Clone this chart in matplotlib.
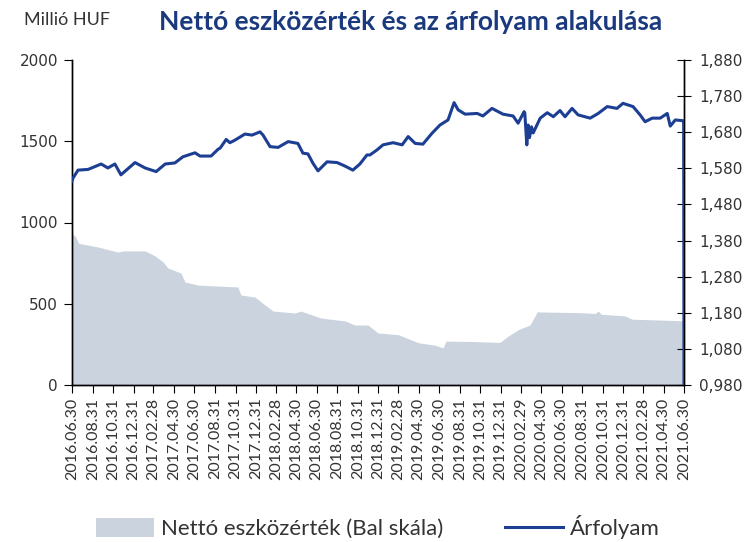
import matplotlib
matplotlib.use("Agg")
import matplotlib.pyplot as plt
import pandas as pd
from matplotlib.ticker import FuncFormatter, MultipleLocator
from matplotlib.patches import Patch
from matplotlib.lines import Line2D

# ---- data ----
nav_dates = ["2016-06-30", "2016-07-10", "2016-07-20", "2016-09-16", "2016-11-14", "2016-11-29",
             "2017-02-03", "2017-03-05", "2017-03-29", "2017-04-12", "2017-05-21", "2017-06-02",
             "2017-07-11", "2017-11-07", "2017-11-16", "2017-12-28", "2018-01-27", "2018-02-20",
             "2018-04-26", "2018-05-14", "2018-07-13", "2018-09-23", "2018-10-22", "2018-11-30",
             "2018-12-30", "2019-02-28", "2019-04-05", "2019-04-30", "2019-06-18", "2019-07-12",
             "2019-07-21", "2019-10-01", "2019-12-29", "2020-01-22", "2020-02-21", "2020-03-28",
             "2020-04-18", "2020-08-24", "2020-10-08", "2020-10-17", "2020-10-26", "2021-01-05",
             "2021-01-26", "2021-06-30"]
nav_values = [930, 915, 872, 849, 818, 825,
              825, 794, 757, 720, 689, 634,
              615, 603, 554, 541, 492, 455,
              443, 455, 412, 394, 369, 369,
              320, 310, 280, 260, 245, 228,
              270, 268, 262, 300, 340, 370,
              450, 445, 440, 455, 435, 425,
              405, 395]

rate_dates = ["2016-06-30", "2016-07-03", "2016-07-18", "2016-08-17", "2016-09-25", "2016-10-15",
              "2016-11-05", "2016-11-23", "2017-01-04", "2017-02-03", "2017-03-08", "2017-04-04",
              "2017-05-03", "2017-05-27", "2017-07-02", "2017-07-17", "2017-08-19", "2017-09-09",
              "2017-09-15", "2017-10-03", "2017-10-14", "2017-10-29", "2017-11-28", "2017-12-19",
              "2018-01-12", "2018-01-21", "2018-02-11", "2018-03-07", "2018-04-06", "2018-05-05",
              "2018-05-20", "2018-06-04", "2018-06-19", "2018-07-04", "2018-07-31", "2018-08-30",
              "2018-09-23", "2018-10-16", "2018-11-06", "2018-11-27", "2018-12-06", "2018-12-27",
              "2019-01-14", "2019-02-13", "2019-03-12", "2019-03-30", "2019-04-20", "2019-05-13",
              "2019-06-09", "2019-07-03", "2019-07-27", "2019-08-14", "2019-08-26", "2019-09-16",
              "2019-10-22", "2019-11-08", "2019-12-05", "2020-01-07", "2020-02-06", "2020-02-21",
              "2020-03-10", "2020-03-12", "2020-03-18", "2020-03-22", "2020-03-26", "2020-04-01",
              "2020-04-06", "2020-04-27", "2020-05-18", "2020-06-05", "2020-06-25", "2020-07-10",
              "2020-07-31", "2020-08-18", "2020-09-23", "2020-10-17", "2020-11-13", "2020-12-12",
              "2020-12-30", "2021-01-29", "2021-02-19", "2021-03-06", "2021-03-27", "2021-04-20",
              "2021-05-11", "2021-05-20", "2021-06-04", "2021-06-25", "2021-06-29", "2021-06-30"]
rate_values = [1.545, 1.553, 1.575, 1.577, 1.592, 1.581,
               1.592, 1.562, 1.596, 1.581, 1.571, 1.592,
               1.595, 1.612, 1.623, 1.614, 1.614, 1.633,
               1.636, 1.660, 1.651, 1.658, 1.675, 1.672,
               1.681, 1.672, 1.640, 1.638, 1.654, 1.649,
               1.622, 1.620, 1.594, 1.573, 1.598, 1.596,
               1.586, 1.575, 1.592, 1.617, 1.617, 1.631,
               1.645, 1.651, 1.645, 1.668, 1.649, 1.647,
               1.677, 1.700, 1.714, 1.762, 1.742, 1.730,
               1.732, 1.725, 1.746, 1.730, 1.725, 1.705,
               1.737, 1.733, 1.645, 1.700, 1.665, 1.695,
               1.678, 1.719, 1.734, 1.723, 1.740, 1.723,
               1.746, 1.728, 1.719, 1.732, 1.751, 1.746,
               1.760, 1.751, 1.728, 1.709, 1.719, 1.719,
               1.732, 1.697, 1.714, 1.712, 1.712, 0.980]

tick_labels = ["2016.06.30", "2016.08.31", "2016.10.31", "2016.12.31", "2017.02.28", "2017.04.30",
               "2017.06.30", "2017.08.31", "2017.10.31", "2017.12.31", "2018.02.28", "2018.04.30",
               "2018.06.30", "2018.08.31", "2018.10.31", "2018.12.31", "2019.02.28", "2019.04.30",
               "2019.06.30", "2019.08.31", "2019.10.31", "2019.12.31", "2020.02.29", "2020.04.30",
               "2020.06.30", "2020.08.31", "2020.10.31", "2020.12.31", "2021.02.28", "2021.04.30",
               "2021.06.30"]

title = "Nettó eszközérték és az árfolyam alakulása"
unit_label = "Millió HUF"
legend_nav = "Nettó eszközérték (Bal skála)"
legend_rate = "Árfolyam"

# ---- styles ----
AREA_COLOR = "#cad3de"
LINE_COLOR = "#1c3e93"
TITLE_COLOR = "#1b3a7e"
TEXT_COLOR = "#333333"
ROUND_FONT = ["Lato", "DejaVu Sans"]

nav_x = pd.to_datetime(nav_dates)
rate_x = pd.to_datetime(rate_dates)
tick_x = pd.to_datetime([t.replace(".", "-") for t in tick_labels])

fig = plt.figure(figsize=(7.54, 5.42), dpi=100)
ax = fig.add_axes([72/754, 1-385/542, (684-72)/754, (385-60)/542])
ax2 = ax.twinx()

ax.fill_between(nav_x, nav_values, 0, color=AREA_COLOR, linewidth=0, zorder=1)
ax2.plot(rate_x, rate_values, color=LINE_COLOR, linewidth=2.2, zorder=3)

ax.set_xlim(tick_x[0], tick_x[-1])
ax.set_ylim(0, 2000)
ax.yaxis.set_major_locator(MultipleLocator(500))
ax2.set_ylim(0.98, 1.88)
ax2.set_yticks([0.98 + 0.1 * i for i in range(10)])
ax2.yaxis.set_major_formatter(FuncFormatter(lambda v, p: f"{v:.3f}".replace(".", ",")))

ax.set_xticks(tick_x)
ax.set_xticklabels(tick_labels, rotation=90, family=ROUND_FONT, fontsize=11.5, color=TEXT_COLOR)

for a in (ax, ax2):
    a.spines["top"].set_visible(False)
    for s in a.spines.values():
        s.set_linewidth(1.0)
        s.set_color("black")

ax.tick_params(axis="y", direction="out", length=6, labelsize=11, labelcolor=TEXT_COLOR, pad=4)
ax.tick_params(axis="x", direction="out", length=6, pad=3)
ax2.tick_params(axis="y", direction="inout", length=10, labelsize=11, labelcolor=TEXT_COLOR, pad=6)
for lbl in ax.get_yticklabels() + ax2.get_yticklabels():
    lbl.set_family("DejaVu Sans")

ax.set_zorder(ax2.get_zorder() - 1)
ax.patch.set_visible(True)
ax2.patch.set_visible(False)

fig.text(411/754, 1-22/542, title, ha="center", va="center", fontsize=19, fontweight="bold",
         color=TITLE_COLOR, family=ROUND_FONT)
fig.text(24/754, 1-20/542, unit_label, ha="left", va="center", fontsize=13,
         color=TEXT_COLOR, family=ROUND_FONT)

handles = [Patch(facecolor=AREA_COLOR, edgecolor="none"),
           Line2D([0], [0], color=LINE_COLOR, linewidth=2.2)]
fig.legend(handles, [legend_nav, legend_rate], loc="center", bbox_to_anchor=(378/754, 1-527/542),
           ncol=2, frameon=False, prop={"family": ROUND_FONT, "size": 16},
           handlelength=2.6, handleheight=0.9, columnspacing=2.8, handletextpad=0.3,
           labelcolor=TEXT_COLOR)

fig.savefig("out.png", dpi=100)
